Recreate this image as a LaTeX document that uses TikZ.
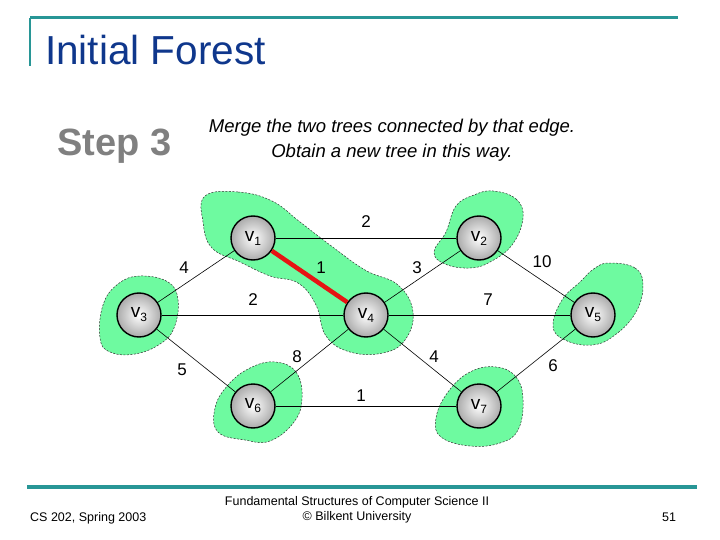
\documentclass[tikz,border=0pt]{standalone}
\usepackage{fontspec}
\setmainfont{Liberation Sans}
\definecolor{teal1}{RGB}{40,150,150}
\definecolor{titleblue}{RGB}{15,55,140}
\definecolor{blobgreen}{RGB}{110,250,160}
\definecolor{redge}{RGB}{230,20,20}
\newcommand{\vlab}[1]{{\fontsize{19}{19}\selectfont v}\raisebox{-4pt}{\fontsize{12}{12}\selectfont #1}}
\tikzset{
  vert/.style={circle, draw=black, line width=1.4pt, minimum size=44pt, inner sep=0pt,
    shade, inner color=white, outer color=black!33},
  blob/.style={fill=blobgreen, draw=black!80, dash pattern=on 2pt off 1.5pt, line width=0.5pt},
  edgeline/.style={draw=black, line width=0.6pt},
  wlab/.style={font=\fontsize{17}{17}\selectfont, inner sep=0pt},
  footer/.style={font=\fontsize{12.5}{15}\selectfont, inner sep=0pt, align=center}
}
\begin{document}
\begin{tikzpicture}[x=1pt,y=-1pt]
\useasboundingbox (0,0) rectangle (720,540);
% frame lines
\draw[teal1, line width=3pt] (30,18) -- (678,18);
\draw[teal1, line width=2.5pt] (30,18) -- (30,66);
\draw[teal1, line width=3.5pt] (27,487) -- (697,487);
% title
\node[anchor=base west, inner sep=0pt, text=titleblue, font=\fontsize{40.5}{40}\selectfont] (title) at (45,65) {Initial Forest};
\node[anchor=base west, inner sep=0pt, text=black!50, font=\fontsize{38}{38}\bfseries\selectfont] (step) at (57,156) {Step 3};
\node[align=center, inner sep=0pt, font=\fontsize{18.5}{25}\itshape\selectfont] (merge) at (392,140) {Merge the two trees connected by that edge.\\Obtain a new tree in this way.};
% blobs
\path[blob] plot[smooth cycle, tension=0.7] coordinates {(205,196) (238,192) (272,201) (300,222) (330,245) (365,270) (398,285) (413,312) (405,340) (383,353) (350,352) (326,336) (316,305) (298,283) (270,276) (240,262) (212,248) (203,222)};
\path[blob] plot[smooth cycle, tension=0.7] coordinates {(493,191) (516,199) (523,218) (512,245) (490,262) (470,268) (445,264) (434,252) (446,232) (456,206) (474,195)};
\path[blob] plot[smooth cycle, tension=0.7] coordinates {(140,276) (168,282) (178,300) (174,328) (160,344) (135,354) (110,352) (100,338) (103,305) (118,284)};
\path[blob] plot[smooth cycle, tension=0.7] coordinates {(610,263) (635,268) (643,285) (636,312) (615,335) (592,345) (565,340) (553,326) (562,300) (580,282) (595,268)};
\path[blob] plot[smooth cycle, tension=0.7] coordinates {(275,362) (296,372) (302,398) (294,422) (270,441) (245,440) (218,432) (215,408) (228,385) (250,368)};
\path[blob] plot[smooth cycle, tension=0.7] coordinates {(496,367) (516,377) (523,400) (518,430) (500,443) (470,446) (441,437) (436,418) (448,392) (470,372)};
% vertices
\node[vert] (v1) at (253,238) {\vlab{1}};
\node[vert] (v2) at (479,238) {\vlab{2}};
\node[vert] (v3) at (139,315) {\vlab{3}};
\node[vert] (v4) at (366,315) {\vlab{4}};
\node[vert] (v5) at (593,315) {\vlab{5}};
\node[vert] (v6) at (253,406) {\vlab{6}};
\node[vert] (v7) at (479,406) {\vlab{7}};
% edges
\draw[edgeline] (v1) -- (v2);
\draw[edgeline] (v1) -- (v3);
\draw[edgeline] (v2) -- (v4);
\draw[edgeline] (v2) -- (v5);
\draw[edgeline] (v3) -- (v4);
\draw[edgeline] (v4) -- (v5);
\draw[edgeline] (v3) -- (v6);
\draw[edgeline] (v4) -- (v6);
\draw[edgeline] (v4) -- (v7);
\draw[edgeline] (v5) -- (v7);
\draw[edgeline] (v6) -- (v7);
\draw[redge, line width=4.5pt] (v1) -- (v4);
% weights
\node[wlab] (w12) at (366,222) {2};
\node[wlab] (w13) at (184,268) {4};
\node[wlab] (w14) at (321,268) {1};
\node[wlab] (w24) at (417,268) {3};
\node[wlab] (w25) at (542,262) {10};
\node[wlab] (w34) at (253,300) {2};
\node[wlab] (w45) at (488,300) {7};
\node[wlab] (w46) at (297,357) {8};
\node[wlab] (w47) at (434,357) {4};
\node[wlab] (w36) at (182,370) {5};
\node[wlab] (w57) at (553,366) {6};
\node[wlab] (w67) at (361,396) {1};
% footer
\node[footer, anchor=base west] (f1) at (30,521) {CS 202, Spring 2003};
\node[footer] (f2) at (357,510) {Fundamental Structures of Computer Science II\\\textcopyright{} Bilkent University};
\node[footer, anchor=base west] (f3) at (662,521) {51};
\end{tikzpicture}
\end{document}
